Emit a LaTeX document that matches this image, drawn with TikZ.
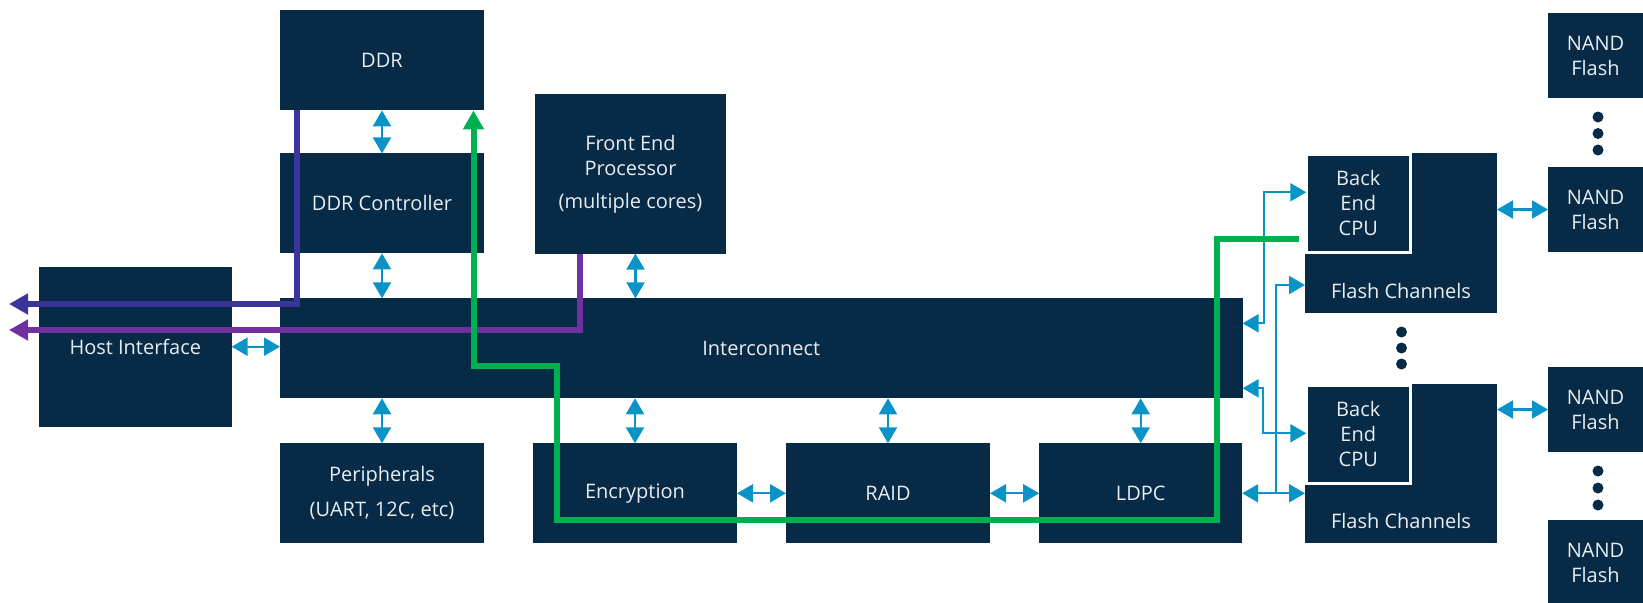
\documentclass[tikz,border=0pt]{standalone}
\usepackage{fontspec}
\setmainfont{Open Sans}
\usetikzlibrary{arrows.meta}
\definecolor{navy}{HTML}{072A46}
\definecolor{boxtext}{HTML}{E8EDF1}
\definecolor{linkblue}{HTML}{0A93C6}
\definecolor{pathgreen}{HTML}{00B050}
\definecolor{pathindigo}{HTML}{3A349B}
\definecolor{pathpurple}{HTML}{7030A0}
\newcommand{\boxfont}{\fontsize{10}{12.5}\selectfont}
\tikzset{
  box/.style={fill=navy, text=boxtext, font=\boxfont, align=center, inner sep=0pt, outer sep=0pt},
  cpubox/.style={box, draw=white, line width=1.25pt, minimum width=52pt, minimum height=49pt},
  nandbox/.style={box, minimum width=47.5pt, minimum height=42.5pt},
  fclabel/.style={text=boxtext, font=\boxfont, anchor=center, yshift=11pt},
  link/.style={<->, draw=linkblue, line width=1.1pt},
  route/.style={-{Triangle[length=9.5pt,width=10pt]}, line width=3pt},
}
\begin{document}
\begin{tikzpicture}[x=0.5pt, y=-0.5pt, >={Triangle[length=8pt,width=9pt]}]
  \useasboundingbox (0,0) rectangle (1643,602);

  % controller blocks
  \node[box, minimum width=102pt, minimum height=50pt] (ddr) at (382,60.4) {DDR};
  \node[box, minimum width=102pt, minimum height=50pt] (ddrc) at (382,203.4) {DDR Controller};
  \node[box, minimum width=95.5pt, minimum height=79.8pt] (fep) at (630.5,173.8) {Front End\\Processor\\[4pt](multiple cores)};
  \node[box, minimum width=96.3pt, minimum height=80pt] (host) at (135.3,346.7) {Host Interface};
  \node[box, minimum width=481.3pt, minimum height=50pt] (ic) at (761.3,348.3) {Interconnect};
  \node[box, minimum width=102pt, minimum height=50pt] (periph) at (382,493.3) {Peripherals\\[5pt](UART, 12C, etc)};
  \node[box, minimum width=102pt, minimum height=50pt] (enc) at (635,493.3) {Encryption};
  \node[box, minimum width=102pt, minimum height=50pt] (raid) at (888,493.3) {RAID};
  \node[box, minimum width=101.5pt, minimum height=50pt] (ldpc) at (1140.7,493.3) {LDPC};

  % back end channels
  \node[box, minimum width=96pt, minimum height=80pt, label={[fclabel]south:Flash Channels}] (fc1) at (1401,233) {};
  \node[box, minimum width=96pt, minimum height=79.5pt, label={[fclabel]south:Flash Channels}] (fc2) at (1401,463.5) {};
  \node[cpubox] (be1) at (1358.25,203.25) {Back\\End\\CPU};
  \node[cpubox] (be2) at (1358.25,434.25) {Back\\End\\CPU};

  % flash devices
  \node[nandbox] (nand1) at (1595.5,55.5) {NAND\\Flash};
  \node[nandbox] (nand2) at (1595.5,209.5) {NAND\\Flash};
  \node[nandbox] (nand3) at (1595.5,409.5) {NAND\\Flash};
  \node[nandbox] (nand4) at (1595.5,562.5) {NAND\\Flash};
  \foreach \y in {117,133.5,150,471,488,505}
    \fill[navy] (1598,\y) circle (2.75pt);
  \foreach \y in {332,348,364}
    \fill[navy] (1401.5,\y) circle (2.75pt);

  % data links
  \draw[link] (ddr.south) -- (ddrc.north);
  \draw[link] (ddrc.south) -- (ddrc.south |- ic.north);
  \draw[link] ([xshift=2.5pt]fep.south) -- ([xshift=2.5pt]fep.south |- ic.north);
  \draw[link] (host.east) -- (host.east -| ic.west);
  \draw[link] (periph.north) -- (periph.north |- ic.south);
  \draw[link] (enc.north) -- (enc.north |- ic.south);
  \draw[link] (raid.north) -- (raid.north |- ic.south);
  \draw[link] (ldpc.north) -- (ldpc.north |- ic.south);
  \draw[link] (enc.east) -- (raid.west);
  \draw[link] (raid.east) -- (ldpc.west);
  \draw[link] (nand2.west -| fc1.east) -- (nand2.west);
  \draw[link] (nand3.west -| fc2.east) -- (nand3.west);

  \coordinate (busA) at (1264,250);
  \coordinate (busB) at (1263,410);
  \coordinate (busC) at (1276,493.3);
  \draw[link] ([yshift=-12.5pt]ic.north east) -| (busA) |- ([yshift=5.5pt]be1.west);
  \draw[link] ([yshift=5pt]ic.south east) -| (busB) |- ([yshift=0.5pt]be2.west);
  \draw[link] (ldpc.east) -- (ldpc.east -| fc2.west);
  \draw[link, ->] (busC) |- ([yshift=-26pt]fc1.west);

  % host paths
  \coordinate (hostA) at (9,304);
  \coordinate (hostB) at (9,330);
  \draw[route, pathindigo] ([xshift=8.25pt]ddr.south west) |- (hostA);
  \draw[route, pathpurple] ([xshift=-25.5pt]fep.south) |- (hostB);

  % write path to DDR
  \coordinate (gA) at (1216.5,520);
  \coordinate (gB) at (557,366);
  \draw[route, pathgreen] ([xshift=-3.6pt,yshift=-18pt]be1.west) -| (gA) -| (gB) -| ([xshift=-5.25pt]ddr.south east);
\end{tikzpicture}
\end{document}
